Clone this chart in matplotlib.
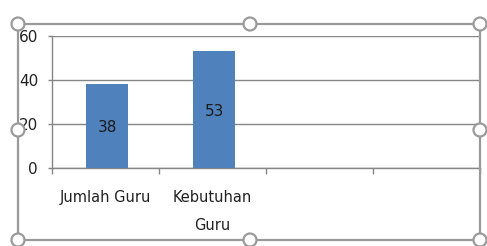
import numpy as np
import matplotlib.pyplot as plt
from matplotlib.patches import Circle, Rectangle

categories = ['Jumlah Guru', 'Kebutuhan\nGuru', '', '']
values = [38, 53]
yticks = [0, 20, 40, 60]

W, H = 487, 246
fig = plt.figure(figsize=(W / 100, H / 100), dpi=100)
plt.rcParams['font.family'] = ['DejaVu Sans']

ax = fig.add_axes([52 / W, 1 - 168 / H, (480 - 52) / W, (168 - 36) / H])
x = np.arange(len(categories))
bars = ax.bar(x[:len(values)] + 0.015, values, width=0.39, color='#4F81BD', zorder=3)
for b, v in zip(bars, values):
    ax.text(b.get_x() + b.get_width() / 2, v / 2, str(v), ha='center', va='center_baseline',
            fontsize=11, color='#1a1a1a', zorder=4)

ax.set_xlim(-0.5, len(categories) - 0.5)
ax.set_ylim(0, 60)
ax.set_yticks(yticks)
ax.set_yticklabels([str(t) for t in yticks], fontsize=11, color='#222222')
ax.set_xticks(x)
ax.set_xticklabels(categories, fontsize=10.5, color='#222222', linespacing=2.05)
ax.set_xticks(np.arange(len(categories) + 1) - 0.5, minor=True)
ax.tick_params(axis='x', which='major', length=0, pad=16)
ax.tick_params(axis='x', which='minor', length=4, color='#868686', width=1)
ax.tick_params(axis='y', length=3, color='#868686', width=1, pad=7)
ax.grid(axis='y', color='#868686', linewidth=1, zorder=1)
for s in ['top', 'right']:
    ax.spines[s].set_visible(False)
for s in ['left', 'bottom']:
    ax.spines[s].set_color('#868686')
    ax.spines[s].set_linewidth(1)

# selection frame with handles
frame_color = '#9a9a9a'
fx0, fx1, fy0, fy1 = 18, 480, 24, 240
fig.patches.append(Rectangle((fx0 / W, 1 - fy1 / H), (fx1 - fx0) / W, (fy1 - fy0) / H,
                             transform=fig.transFigure, fill=False, edgecolor=frame_color,
                             linewidth=1.6, zorder=10))
handles = [(fx0, fy0), (250, fy0), (fx1, fy0), (fx0, 130), (fx1, 130),
           (fx0, fy1), (250, fy1), (fx1, fy1)]
for hx, hy in handles:
    fig.patches.append(Circle((hx, H - hy), 6.5, transform=None, facecolor='white',
                              edgecolor=frame_color, linewidth=1.6, zorder=11))

fig.savefig('out.png', dpi=100)
